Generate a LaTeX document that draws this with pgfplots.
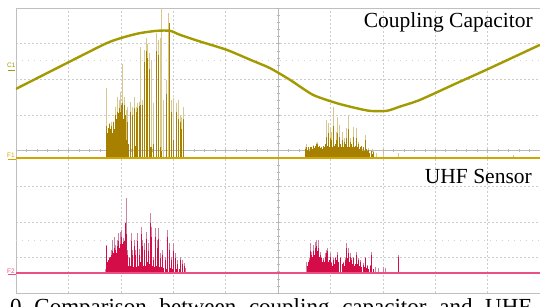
\documentclass[border=0pt]{standalone}
\usepackage{fontspec}
\setmainfont{Liberation Serif}
\setsansfont{Liberation Sans}
\usepackage{pgfplots}
\pgfplotsset{compat=1.18}
\definecolor{sinec}{RGB}{162,154,0}
\definecolor{fdark}{RGB}{168,128,0}
\definecolor{flight}{RGB}{214,200,142}
\definecolor{fbase}{RGB}{210,166,0}
\definecolor{rdark}{RGB}{212,12,72}
\definecolor{rlight}{RGB}{200,132,162}
\definecolor{rbase}{RGB}{236,80,130}
\pgfplotsset{osc/.style={at={(16pt,13pt)}, anchor=south west, width=524pt, height=285pt,
  scale only axis, xmin=0, xmax=10},
  bare/.style={axis lines=none, ticks=none}}
\begin{document}
\begin{tikzpicture}
\useasboundingbox (0,0) rectangle (540pt,306pt);
\clip (0,0) rectangle (540pt,306pt);
% grid
\begin{axis}[osc, ymin=0, ymax=8, xtick={0,...,10}, ytick={0,...,8},
  xticklabels={}, yticklabels={}, major tick length=0pt,
  grid=major, major grid style={gray!40, dash pattern=on 2pt off 2pt, line width=0.5pt},
  extra y ticks={1.49,6.52}, extra y tick labels={},
  extra y tick style={major grid style={gray!35, dash pattern=on 1pt off 5pt, line width=0.5pt}},
  axis line style={gray!50, line width=0.6pt}]
\addplot[draw=none] coordinates {(0,0)};
\end{axis}
% centre cross with ticks
\begin{axis}[osc, xmin=-5, xmax=5, ymin=-4, ymax=4, axis lines=center,
  axis line style={gray!55, -, line width=0.5pt}, xtick={-5,...,5}, ytick={-4,...,4},
  xticklabels={}, yticklabels={}, minor tick num=4, tick style={gray!55, line width=0.4pt},
  major tick length=4pt, minor tick length=3pt, tick align=center]
\addplot[draw=none] coordinates {(0,0)};
\end{axis}
% F1 : coupling capacitor pulses
\begin{axis}[osc, bare, ymin=-3.79, ymax=4.21]
\addplot[ycomb, flight, line width=0.9pt] coordinates {
(1.730,1.97)(1.781,0.98)(1.826,1.0)(1.889,1.43)(1.934,1.71)(1.973,1.62)(1.998,1.85)(2.036,2.64)
(2.061,1.71)(2.099,1.35)(2.125,1.43)(2.176,1.56)(2.214,1.43)(2.252,1.72)(2.290,1.43)(2.322,1.53)
(2.354,1.58)(2.380,3.12)(2.418,1.62)(2.443,3.03)(2.481,3.37)(2.513,3.2)(2.544,2.94)(2.590,2.75)
(2.620,1.53)(2.672,3.5)(2.716,3.31)(2.748,3.37)(2.780,4.21)(2.811,1.62)(2.863,2.19)(2.906,4.07)
(2.971,1.62)(3.002,1.67)(3.053,1.53)(3.097,1.62)(3.130,1.2)(3.162,1.15)(3.193,1.43)
(5.515,0.32)(5.547,0.38)(5.674,0.36)(5.738,0.41)(5.757,0.46)(5.929,1.07)(5.961,0.97)(5.992,0.83)
(6.024,0.74)(6.056,1.44)(6.113,0.74)(6.139,1.16)(6.164,0.93)(6.221,0.74)(6.266,0.55)(6.311,0.83)
(6.343,1.21)(6.374,0.55)(6.438,0.88)(6.501,0.83)(6.533,0.46)(6.660,0.65)(6.723,0.27)(6.819,0.22)
(6.883,0.13)(7.010,0.13)(7.296,0.13)(9.485,0.08)};
\addplot[ycomb, fdark, line width=0.8pt] coordinates {
(1.73,0.9)(1.745,0.7)(1.756,0.85)(1.77,0.75)(1.781,0.95)(1.795,0.6)(1.807,0.8)(1.82,0.9)(1.835,0.7)
(1.858,1.0)(1.87,0.8)(1.889,1.2)(1.9,0.9)(1.908,1.1)(1.92,0.85)(1.934,1.3)(1.945,1.0)(1.953,1.25)
(1.965,0.9)(1.973,1.4)(1.985,1.1)(1.998,1.3)(2.01,1.0)(2.017,1.5)(2.03,1.2)(2.036,1.55)(2.05,1.1)
(2.061,1.5)(2.07,1.0)(2.080,1.2)(2.099,0.5)(2.125,1.0)(2.15,0.4)(2.176,1.3)(2.19,0.3)(2.214,1.2)
(2.23,0.3)(2.252,1.4)(2.27,0.35)(2.290,1.3)(2.322,1.4)(2.354,1.45)(2.380,1.5)(2.418,1.5)(2.443,2.7)
(2.481,3.0)(2.513,2.8)(2.544,2.5)(2.56,0.3)(2.590,0.3)(2.620,0.4)(2.672,3.0)(2.716,2.9)(2.748,0.3)
(2.780,0.2)(2.863,1.8)(2.971,1.3)(3.002,0.5)(3.053,1.3)(3.097,1.1)(3.130,1.0)(3.162,0.8)(3.193,1.1)
(5.515,0.25)(5.53,0.2)(5.547,0.3)(5.563,0.22)(5.579,0.3)(5.595,0.2)(5.611,0.25)(5.627,0.3)(5.643,0.3)
(5.66,0.25)(5.674,0.33)(5.69,0.28)(5.706,0.3)(5.722,0.35)(5.738,0.38)(5.757,0.4)(5.77,0.3)(5.782,0.35)
(5.8,0.28)(5.821,0.3)(5.84,0.25)(5.865,0.35)(5.88,0.3)(5.897,0.4)(5.91,0.3)(5.929,0.6)(5.945,0.35)
(5.961,0.7)(5.975,0.3)(5.992,0.55)(6.01,0.35)(6.024,0.5)(6.04,0.3)(6.056,0.9)(6.07,0.35)(6.088,0.4)
(6.1,0.3)(6.113,0.5)(6.125,0.3)(6.139,0.7)(6.15,0.3)(6.164,0.6)(6.18,0.3)(6.196,0.4)(6.21,0.3)
(6.221,0.5)(6.24,0.3)(6.266,0.45)(6.28,0.3)(6.292,0.4)(6.311,0.55)(6.325,0.3)(6.343,0.8)(6.36,0.3)
(6.374,0.45)(6.39,0.3)(6.406,0.4)(6.42,0.3)(6.438,0.6)(6.455,0.3)(6.469,0.35)(6.485,0.25)(6.501,0.55)
(6.52,0.3)(6.533,0.4)(6.55,0.25)(6.565,0.3)(6.58,0.25)(6.597,0.35)(6.61,0.2)(6.628,0.3)(6.645,0.2)
(6.660,0.5)(6.675,0.2)(6.692,0.25)(6.71,0.2)(6.723,0.22)(6.75,0.15)(6.775,0.2)(6.8,0.12)(6.819,0.18)};
\addplot[ycomb, fdark, line width=1.6pt] coordinates {(2.933,3.8)};
\addplot[fbase, line width=2pt] coordinates {(0,0)(10,0)};
\end{axis}
% F2 : UHF sensor pulses
\begin{axis}[osc, bare, ymin=-0.57, ymax=7.43]
\addplot[ycomb, rlight, line width=0.9pt] coordinates {
(1.698,0.1)(1.730,0.78)(1.775,0.45)(1.813,0.64)(1.838,0.92)(1.876,1.01)(1.902,0.78)(1.927,0.92)
(1.953,1.11)(1.985,1.15)(2.017,1.2)(2.055,0.97)(2.080,1.39)(2.099,2.09)(2.125,0.64)(2.163,0.45)
(2.195,1.11)(2.227,0.64)(2.258,0.92)(2.284,0.64)(2.322,1.11)(2.354,0.67)(2.385,1.29)(2.411,0.92)
(2.449,0.83)(2.494,1.15)(2.525,0.83)(2.557,1.67)(2.576,1.29)(2.621,0.45)(2.653,1.25)(2.691,0.92)
(2.716,1.25)(2.755,0.56)(2.793,0.64)(2.844,0.45)(2.895,1.2)(2.920,0.83)(2.958,0.45)(3.003,0.83)
(3.034,0.54)(3.086,0.36)(3.130,0.45)(3.174,0.36)(3.212,0.26)(3.239,0.12)
(5.547,0.31)(5.592,0.4)(5.611,0.83)(5.643,0.59)(5.674,0.78)(5.706,0.87)(5.738,0.92)(5.770,0.92)
(5.802,0.59)(5.834,0.45)(5.865,0.40)(5.897,0.55)(5.929,0.64)(5.948,0.68)(5.992,0.55)(6.024,0.31)
(6.056,0.40)(6.088,0.45)(6.139,0.59)(6.183,0.45)(6.247,0.31)(6.279,0.40)(6.311,0.83)(6.343,0.68)
(6.374,0.55)(6.406,0.40)(6.438,0.45)(6.501,0.59)(6.533,0.40)(6.565,0.36)(6.628,0.26)(6.673,0.45)
(6.711,0.22)(6.756,0.22)(6.788,0.59)(6.851,0.17)(6.914,0.12)(7.010,0.17)(7.042,0.12)(7.296,0.50)};
\addplot[ycomb, rdark, line width=0.8pt] coordinates {
(1.730,0.75)(1.745,0.3)(1.76,0.35)(1.775,0.4)(1.79,0.3)(1.80,0.45)(1.813,0.5)(1.825,0.4)(1.838,0.6)
(1.85,0.5)(1.863,0.55)(1.876,0.7)(1.89,0.5)(1.902,0.65)(1.915,0.55)(1.927,0.75)(1.94,0.6)(1.953,0.9)
(1.97,0.7)(1.985,0.8)(2.0,0.65)(2.017,1.0)(2.03,0.8)(2.04,0.7)(2.055,0.85)(2.067,0.9)(2.080,1.39)
(2.09,1.0)(2.099,1.1)(2.112,0.5)(2.125,0.5)(2.14,0.2)(2.163,0.4)(2.18,0.2)(2.195,0.9)(2.21,0.2)
(2.227,0.5)(2.24,0.15)(2.258,0.75)(2.27,0.2)(2.284,0.5)(2.30,0.15)(2.322,0.9)(2.338,0.2)(2.354,0.5)
(2.37,0.3)(2.385,1.1)(2.40,0.3)(2.411,0.75)(2.43,0.2)(2.449,0.65)(2.47,0.2)(2.494,0.95)(2.51,0.3)
(2.525,0.6)(2.54,0.25)(2.557,1.4)(2.576,1.0)(2.6,0.2)(2.621,0.35)(2.64,0.15)(2.653,1.0)(2.67,0.2)
(2.691,0.7)(2.716,0.95)(2.73,0.15)(2.755,0.4)(2.775,0.15)(2.793,0.5)(2.82,0.12)(2.844,0.35)(2.87,0.1)
(2.895,1.0)(2.920,0.65)(2.94,0.12)(2.958,0.35)(2.98,0.1)(3.003,0.6)(3.034,0.4)(3.06,0.1)(3.086,0.25)
(3.11,0.1)(3.130,0.35)(3.174,0.25)(3.212,0.18)
(5.56,0.2)(5.58,0.3)(5.6,0.35)(5.611,0.6)(5.625,0.4)(5.643,0.5)(5.658,0.45)(5.674,0.6)(5.69,0.5)
(5.706,0.7)(5.72,0.55)(5.738,0.75)(5.754,0.6)(5.770,0.7)(5.785,0.45)(5.802,0.5)(5.818,0.35)(5.834,0.4)
(5.85,0.3)(5.865,0.35)(5.88,0.3)(5.897,0.45)(5.912,0.35)(5.929,0.55)(5.948,0.6)(5.96,0.3)(5.975,0.35)
(5.992,0.45)(6.008,0.25)(6.024,0.28)(6.04,0.2)(6.056,0.35)(6.072,0.25)(6.088,0.4)(6.105,0.3)(6.12,0.35)
(6.139,0.5)(6.16,0.3)(6.183,0.4)(6.2,0.2)(6.22,0.25)(6.247,0.28)(6.263,0.2)(6.279,0.35)(6.295,0.3)
(6.311,0.7)(6.327,0.4)(6.343,0.55)(6.36,0.3)(6.374,0.45)(6.39,0.25)(6.406,0.35)(6.42,0.25)(6.438,0.4)
(6.46,0.2)(6.48,0.25)(6.501,0.5)(6.515,0.25)(6.533,0.35)(6.55,0.2)(6.565,0.3)(6.6,0.15)(6.628,0.22)
(6.65,0.15)(6.673,0.4)(6.69,0.12)(6.711,0.18)(6.73,0.1)(6.756,0.18)(6.788,0.5)(6.82,0.1)(7.296,0.45)};
\addplot[rbase, line width=2pt] coordinates {(0,0)(10,0)};
\end{axis}
% C1 : coupling-capacitor voltage trace (read point by point)
\begin{axis}[osc, bare, ymin=0, ymax=8]
\addplot[sinec, line width=2.4pt, smooth, tension=0.4] coordinates {
(0,5.730)(0.968,6.452)(1.731,7.014)(2.080,7.19)(2.366,7.295)(2.691,7.360)(2.939,7.360)
(3.130,7.247)(3.511,7.06)(4.021,6.826)(4.466,6.55)(4.847,6.312)(5.229,5.983)(5.668,5.562)
(6.120,5.329)(6.469,5.197)(6.756,5.112)(7.074,5.112)(7.328,5.233)(7.710,5.421)(8.410,5.890)
(8.983,6.27)(10,6.966)};
\end{axis}
% channel markers
\draw[sinec, line width=1pt] (8pt,235.5pt) -- (15pt,235.5pt);
\node[anchor=base west, inner sep=0, text=sinec, font=\sffamily\fontsize{6.5}{6.5}\selectfont] at (7pt,238.5pt) {C1};
\draw[fbase, line width=1pt] (8pt,147pt) -- (16pt,147pt);
\node[anchor=base west, inner sep=0, text=fbase, font=\sffamily\fontsize{6.5}{6.5}\selectfont] at (7pt,148.5pt) {F1};
\draw[rbase, line width=1pt] (8pt,31.5pt) -- (16pt,31.5pt);
\node[anchor=base west, inner sep=0, text=rbase, font=\sffamily\fontsize{6.5}{6.5}\selectfont] at (7pt,33pt) {F2};
% labels
\node[anchor=base east, inner sep=0, font=\fontsize{21.5}{21.5}\selectfont] at (533pt,278pt) {Coupling Capacitor};
\node[anchor=base east, inner sep=0, font=\fontsize{21.5}{21.5}\selectfont] at (532pt,122.7pt) {UHF Sensor};
% caption (cut off at the bottom edge, as in the reference)
\node[anchor=base west, inner sep=0, font=\fontsize{23}{23}\selectfont] at (10pt,-8.5pt)
  {\makebox[521pt][s]{0 Comparison between coupling capacitor and UHF}};
\end{tikzpicture}
\end{document}
